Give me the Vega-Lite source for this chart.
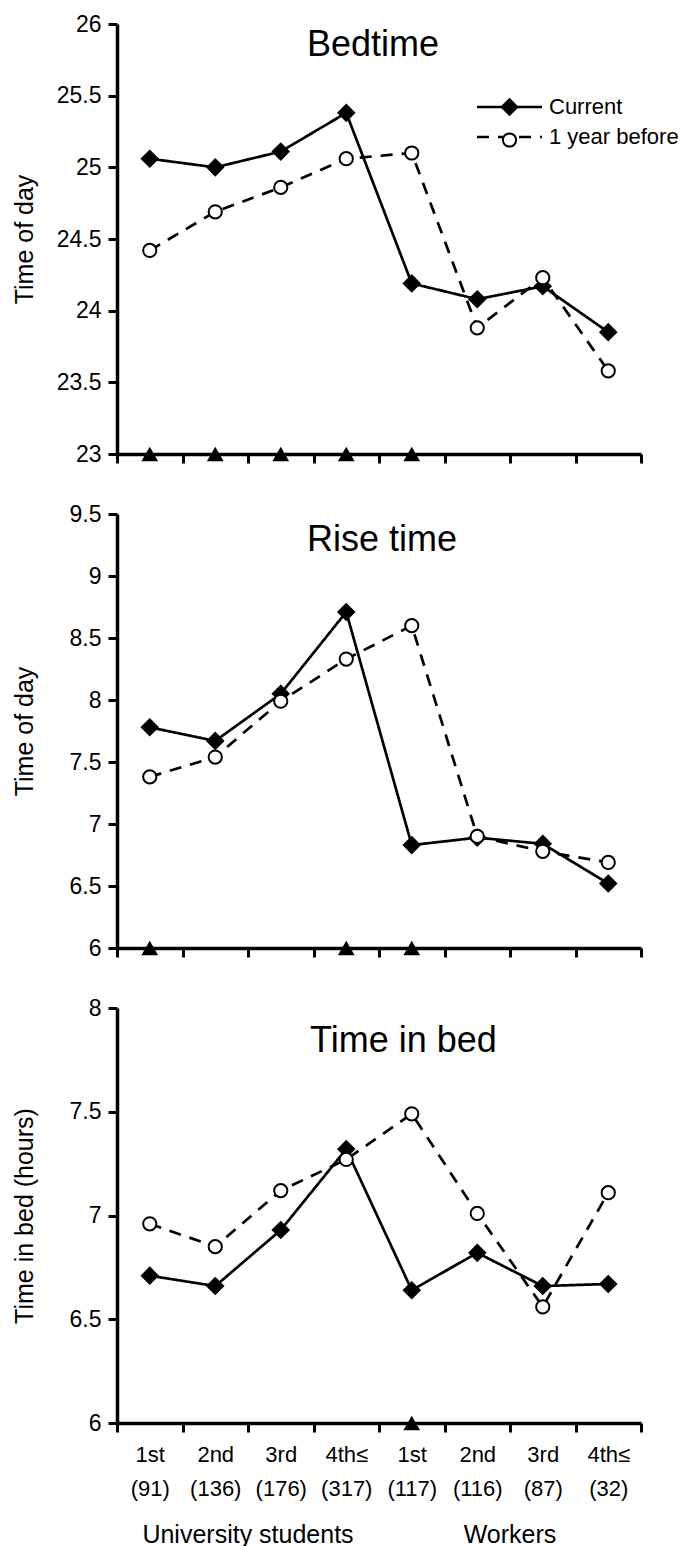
{
  "$schema": "https://vega.github.io/schema/vega-lite/v6.json",
  "padding": {"left": 12, "top": 13, "right": 0, "bottom": 0},
  "config": {
    "font": "Liberation Sans",
    "view": {"stroke": null},
    "axis": {"domainColor": "black", "domainWidth": 3.5, "tickColor": "black", "tickWidth": 3, "tickSize": 9, "labelColor": "black", "labelFontSize": 23, "labelFont": "Liberation Sans", "titleColor": "black", "titleFontSize": 25, "titleFontWeight": "normal", "titleFont": "Liberation Sans", "grid": false},
    "legend": {"labelFont": "Liberation Sans"}
  },
  "datasets": {
    "main": [
      {"panel": "Bedtime", "cat": "1st|(91)", "series": "Current", "value": 25.06},
      {"panel": "Bedtime", "cat": "2nd|(136)", "series": "Current", "value": 25.0},
      {"panel": "Bedtime", "cat": "3rd|(176)", "series": "Current", "value": 25.11},
      {"panel": "Bedtime", "cat": "4th≤|(317)", "series": "Current", "value": 25.38},
      {"panel": "Bedtime", "cat": "1st|(117)", "series": "Current", "value": 24.19},
      {"panel": "Bedtime", "cat": "2nd|(116)", "series": "Current", "value": 24.08},
      {"panel": "Bedtime", "cat": "3rd|(87)", "series": "Current", "value": 24.17},
      {"panel": "Bedtime", "cat": "4th≤|(32)", "series": "Current", "value": 23.85},
      {"panel": "Bedtime", "cat": "1st|(91)", "series": "1 year before", "value": 24.42},
      {"panel": "Bedtime", "cat": "2nd|(136)", "series": "1 year before", "value": 24.69},
      {"panel": "Bedtime", "cat": "3rd|(176)", "series": "1 year before", "value": 24.86},
      {"panel": "Bedtime", "cat": "4th≤|(317)", "series": "1 year before", "value": 25.06},
      {"panel": "Bedtime", "cat": "1st|(117)", "series": "1 year before", "value": 25.1},
      {"panel": "Bedtime", "cat": "2nd|(116)", "series": "1 year before", "value": 23.88},
      {"panel": "Bedtime", "cat": "3rd|(87)", "series": "1 year before", "value": 24.23},
      {"panel": "Bedtime", "cat": "4th≤|(32)", "series": "1 year before", "value": 23.58},
      {"panel": "Rise", "cat": "1st|(91)", "series": "Current", "value": 7.78},
      {"panel": "Rise", "cat": "2nd|(136)", "series": "Current", "value": 7.67},
      {"panel": "Rise", "cat": "3rd|(176)", "series": "Current", "value": 8.05},
      {"panel": "Rise", "cat": "4th≤|(317)", "series": "Current", "value": 8.71},
      {"panel": "Rise", "cat": "1st|(117)", "series": "Current", "value": 6.83},
      {"panel": "Rise", "cat": "2nd|(116)", "series": "Current", "value": 6.89},
      {"panel": "Rise", "cat": "3rd|(87)", "series": "Current", "value": 6.84},
      {"panel": "Rise", "cat": "4th≤|(32)", "series": "Current", "value": 6.52},
      {"panel": "Rise", "cat": "1st|(91)", "series": "1 year before", "value": 7.38},
      {"panel": "Rise", "cat": "2nd|(136)", "series": "1 year before", "value": 7.54},
      {"panel": "Rise", "cat": "3rd|(176)", "series": "1 year before", "value": 7.99},
      {"panel": "Rise", "cat": "4th≤|(317)", "series": "1 year before", "value": 8.33},
      {"panel": "Rise", "cat": "1st|(117)", "series": "1 year before", "value": 8.6},
      {"panel": "Rise", "cat": "2nd|(116)", "series": "1 year before", "value": 6.9},
      {"panel": "Rise", "cat": "3rd|(87)", "series": "1 year before", "value": 6.78},
      {"panel": "Rise", "cat": "4th≤|(32)", "series": "1 year before", "value": 6.69},
      {"panel": "Bed", "cat": "1st|(91)", "series": "Current", "value": 6.71},
      {"panel": "Bed", "cat": "2nd|(136)", "series": "Current", "value": 6.66},
      {"panel": "Bed", "cat": "3rd|(176)", "series": "Current", "value": 6.93},
      {"panel": "Bed", "cat": "4th≤|(317)", "series": "Current", "value": 7.32},
      {"panel": "Bed", "cat": "1st|(117)", "series": "Current", "value": 6.64},
      {"panel": "Bed", "cat": "2nd|(116)", "series": "Current", "value": 6.82},
      {"panel": "Bed", "cat": "3rd|(87)", "series": "Current", "value": 6.66},
      {"panel": "Bed", "cat": "4th≤|(32)", "series": "Current", "value": 6.67},
      {"panel": "Bed", "cat": "1st|(91)", "series": "1 year before", "value": 6.96},
      {"panel": "Bed", "cat": "2nd|(136)", "series": "1 year before", "value": 6.85},
      {"panel": "Bed", "cat": "3rd|(176)", "series": "1 year before", "value": 7.12},
      {"panel": "Bed", "cat": "4th≤|(317)", "series": "1 year before", "value": 7.27},
      {"panel": "Bed", "cat": "1st|(117)", "series": "1 year before", "value": 7.49},
      {"panel": "Bed", "cat": "2nd|(116)", "series": "1 year before", "value": 7.01},
      {"panel": "Bed", "cat": "3rd|(87)", "series": "1 year before", "value": 6.56},
      {"panel": "Bed", "cat": "4th≤|(32)", "series": "1 year before", "value": 7.11}
    ],
    "sig": [
      {"panel": "Bedtime", "cat": "1st|(91)"},
      {"panel": "Bedtime", "cat": "2nd|(136)"},
      {"panel": "Bedtime", "cat": "3rd|(176)"},
      {"panel": "Bedtime", "cat": "4th≤|(317)"},
      {"panel": "Bedtime", "cat": "1st|(117)"},
      {"panel": "Rise", "cat": "1st|(91)"},
      {"panel": "Rise", "cat": "4th≤|(317)"},
      {"panel": "Rise", "cat": "1st|(117)"},
      {"panel": "Bed", "cat": "1st|(117)"}
    ],
    "grp": [
      {"grp": "University students"},
      {"grp": "Workers"}
    ]
  },
  "spacing": 60,
  "bounds": "flush",
  "resolve": {"scale": {"x": "independent", "y": "independent", "shape": "independent", "fill": "independent", "strokeDash": "independent", "size": "independent"}},
  "vconcat": [
    {
      "width": 524, "height": 430,
      "title": {"text": "Bedtime", "anchor": "start", "frame": "group", "dx": 190, "dy": 79, "offset": 0, "baseline": "alphabetic", "fontSize": 36, "fontWeight": "normal", "color": "black", "font": "Liberation Sans"},
      "layer": [
        {
          "data": {"name": "main"},
          "transform": [{"filter": "datum.panel === 'Bedtime'"}],
          "mark": {"type": "line", "color": "black", "strokeWidth": 2.7},
          "encoding": {
            "x": {"field": "cat", "type": "nominal", "bandPosition": 0.5, "scale": {"type": "band", "domain": ["1st|(91)", "2nd|(136)", "3rd|(176)", "4th≤|(317)", "1st|(117)", "2nd|(116)", "3rd|(87)", "4th≤|(32)"], "paddingInner": 0, "paddingOuter": 0}, "axis": {"title": null, "labels": false, "tickBand": "extent"}},
            "y": {"field": "value", "type": "quantitative", "scale": {"domain": [23, 26], "nice": false, "zero": false}, "axis": {"title": "Time of day", "values": [23, 23.5, 24, 24.5, 25, 25.5, 26], "format": "~g", "labelPadding": 7, "titleX": -105, "titleBaseline": "top"}},
            "strokeDash": {"field": "series", "type": "nominal", "sort": "descending", "scale": {"range": [[1, 0], [12, 9]]},
              "legend": {"orient": "none", "legendX": 358.5, "legendY": 72, "title": null, "direction": "vertical", "padding": 0, "labelFontSize": 22, "labelColor": "black", "labelOffset": 5.5, "rowPadding": 8, "clipHeight": 22, "symbolType": "stroke", "symbolSize": 4225, "symbolStrokeWidth": 2.7, "symbolStrokeColor": "black", "symbolOpacity": 1, "zindex": 0}},
            "order": {"value": null}
          }
        },
        {
          "data": {"name": "main"},
          "transform": [{"filter": "datum.panel === 'Bedtime'"}],
          "mark": {"type": "point", "filled": true, "stroke": "black", "strokeWidth": 2, "opacity": 1},
          "encoding": {
            "x": {"field": "cat", "type": "nominal", "bandPosition": 0.5},
            "y": {"field": "value", "type": "quantitative"},
            "shape": {"field": "series", "type": "nominal", "scale": {"domain": ["Current", "1 year before"], "range": ["diamond", "circle"]},
              "legend": {"orient": "none", "legendX": 381.5, "legendY": 72, "title": null, "direction": "vertical", "padding": 0, "labelFontSize": 22, "labelExpr": "''", "rowPadding": 10, "symbolStrokeWidth": 2, "symbolOpacity": 1, "zindex": 1}},
            "fill": {"field": "series", "type": "nominal", "scale": {"domain": ["Current", "1 year before"], "range": ["black", "white"]},
              "legend": {"orient": "none", "legendX": 381.5, "legendY": 72, "title": null, "direction": "vertical", "padding": 0, "labelFontSize": 22, "labelExpr": "''", "rowPadding": 10, "symbolStrokeWidth": 2, "symbolOpacity": 1, "zindex": 1}},
            "size": {"field": "series", "type": "ordinal", "scale": {"domain": ["Current", "1 year before"], "range": [250, 175]},
              "legend": {"orient": "none", "legendX": 381.5, "legendY": 72, "title": null, "direction": "vertical", "padding": 0, "labelFontSize": 22, "labelExpr": "''", "rowPadding": 10, "symbolStrokeWidth": 2, "symbolOpacity": 1, "zindex": 1}}
          }
        },
        {
          "data": {"name": "sig"},
          "transform": [{"filter": "datum.panel === 'Bedtime'"}],
          "mark": {"type": "point", "shape": "triangle-up", "filled": true, "color": "black", "size": 280, "opacity": 1},
          "encoding": {
            "x": {"field": "cat", "type": "nominal", "bandPosition": 0.5},
            "y": {"datum": 23}
          }
        }
      ]
    },
    {
      "width": 524, "height": 434,
      "title": {"text": "Rise time", "anchor": "start", "frame": "group", "dx": 190, "dy": 84, "offset": 0, "baseline": "alphabetic", "fontSize": 36, "fontWeight": "normal", "color": "black", "font": "Liberation Sans"},
      "layer": [
        {
          "data": {"name": "main"},
          "transform": [{"filter": "datum.panel === 'Rise'"}],
          "mark": {"type": "line", "color": "black", "strokeWidth": 2.7},
          "encoding": {
            "x": {"field": "cat", "type": "nominal", "bandPosition": 0.5, "scale": {"type": "band", "domain": ["1st|(91)", "2nd|(136)", "3rd|(176)", "4th≤|(317)", "1st|(117)", "2nd|(116)", "3rd|(87)", "4th≤|(32)"], "paddingInner": 0, "paddingOuter": 0}, "axis": {"title": null, "labels": false, "tickBand": "extent"}},
            "y": {"field": "value", "type": "quantitative", "scale": {"domain": [6, 9.5], "nice": false, "zero": false}, "axis": {"title": "Time of day", "values": [6, 6.5, 7, 7.5, 8, 8.5, 9, 9.5], "format": "~g", "labelPadding": 7, "titleX": -105, "titleBaseline": "top"}},
            "strokeDash": {"field": "series", "type": "nominal", "sort": "descending", "scale": {"range": [[1, 0], [12, 9]]}, "legend": null},
            "order": {"value": null}
          }
        },
        {
          "data": {"name": "main"},
          "transform": [{"filter": "datum.panel === 'Rise'"}],
          "mark": {"type": "point", "filled": true, "stroke": "black", "strokeWidth": 2, "opacity": 1},
          "encoding": {
            "x": {"field": "cat", "type": "nominal", "bandPosition": 0.5},
            "y": {"field": "value", "type": "quantitative"},
            "shape": {"field": "series", "type": "nominal", "scale": {"domain": ["Current", "1 year before"], "range": ["diamond", "circle"]}, "legend": null},
            "fill": {"field": "series", "type": "nominal", "scale": {"domain": ["Current", "1 year before"], "range": ["black", "white"]}, "legend": null},
            "size": {"field": "series", "type": "ordinal", "scale": {"domain": ["Current", "1 year before"], "range": [250, 175]}, "legend": null}
          }
        },
        {
          "data": {"name": "sig"},
          "transform": [{"filter": "datum.panel === 'Rise'"}],
          "mark": {"type": "point", "shape": "triangle-up", "filled": true, "color": "black", "size": 280, "opacity": 1},
          "encoding": {
            "x": {"field": "cat", "type": "nominal", "bandPosition": 0.5},
            "y": {"datum": 6}
          }
        }
      ]
    },
    {
      "width": 524, "height": 415,
      "title": {"text": "Time in bed", "anchor": "start", "frame": "group", "dx": 193, "dy": 91, "offset": 0, "baseline": "alphabetic", "fontSize": 36, "fontWeight": "normal", "color": "black", "font": "Liberation Sans"},
      "resolve": {"scale": {"x": "independent"}},
      "layer": [
        {
          "data": {"name": "main"},
          "transform": [{"filter": "datum.panel === 'Bed'"}],
          "mark": {"type": "line", "color": "black", "strokeWidth": 2.7},
          "encoding": {
            "x": {"field": "cat", "type": "nominal", "bandPosition": 0.5, "scale": {"type": "band", "domain": ["1st|(91)", "2nd|(136)", "3rd|(176)", "4th≤|(317)", "1st|(117)", "2nd|(116)", "3rd|(87)", "4th≤|(32)"], "paddingInner": 0, "paddingOuter": 0}, "axis": {"title": null, "labels": true, "tickBand": "extent", "labelExpr": "datum.value ? split(datum.value, '|') : ''", "labelFontSize": 22, "labelLineHeight": 34, "labelPadding": 12, "labelAngle": 0}},
            "y": {"field": "value", "type": "quantitative", "scale": {"domain": [6, 8], "nice": false, "zero": false}, "axis": {"title": "Time in bed (hours)", "values": [6, 6.5, 7, 7.5, 8], "format": "~g", "labelPadding": 7, "titleX": -105, "titleBaseline": "top"}},
            "strokeDash": {"field": "series", "type": "nominal", "sort": "descending", "scale": {"range": [[1, 0], [12, 9]]}, "legend": null},
            "order": {"value": null}
          }
        },
        {
          "data": {"name": "main"},
          "transform": [{"filter": "datum.panel === 'Bed'"}],
          "mark": {"type": "point", "filled": true, "stroke": "black", "strokeWidth": 2, "opacity": 1},
          "encoding": {
            "x": {"field": "cat", "type": "nominal", "bandPosition": 0.5, "scale": {"type": "band", "domain": ["1st|(91)", "2nd|(136)", "3rd|(176)", "4th≤|(317)", "1st|(117)", "2nd|(116)", "3rd|(87)", "4th≤|(32)"], "paddingInner": 0, "paddingOuter": 0}, "axis": null},
            "y": {"field": "value", "type": "quantitative"},
            "shape": {"field": "series", "type": "nominal", "scale": {"domain": ["Current", "1 year before"], "range": ["diamond", "circle"]}, "legend": null},
            "fill": {"field": "series", "type": "nominal", "scale": {"domain": ["Current", "1 year before"], "range": ["black", "white"]}, "legend": null},
            "size": {"field": "series", "type": "ordinal", "scale": {"domain": ["Current", "1 year before"], "range": [250, 175]}, "legend": null}
          }
        },
        {
          "data": {"name": "sig"},
          "transform": [{"filter": "datum.panel === 'Bed'"}],
          "mark": {"type": "point", "shape": "triangle-up", "filled": true, "color": "black", "size": 280, "opacity": 1},
          "encoding": {
            "x": {"field": "cat", "type": "nominal", "bandPosition": 0.5, "scale": {"type": "band", "domain": ["1st|(91)", "2nd|(136)", "3rd|(176)", "4th≤|(317)", "1st|(117)", "2nd|(116)", "3rd|(87)", "4th≤|(32)"], "paddingInner": 0, "paddingOuter": 0}, "axis": null},
            "y": {"datum": 6}
          }
        },
        {
          "data": {"name": "grp"},
          "mark": {"type": "text", "fontSize": 25, "baseline": "alphabetic", "color": "black", "font": "Liberation Sans"},
          "encoding": {
            "x": {"field": "grp", "type": "nominal", "bandPosition": 0.5, "scale": {"type": "band", "domain": ["University students", "Workers"], "paddingInner": 0, "paddingOuter": 0}, "axis": null},
            "y": {"datum": 5.422},
            "text": {"field": "grp"}
          }
        }
      ]
    }
  ]
}
